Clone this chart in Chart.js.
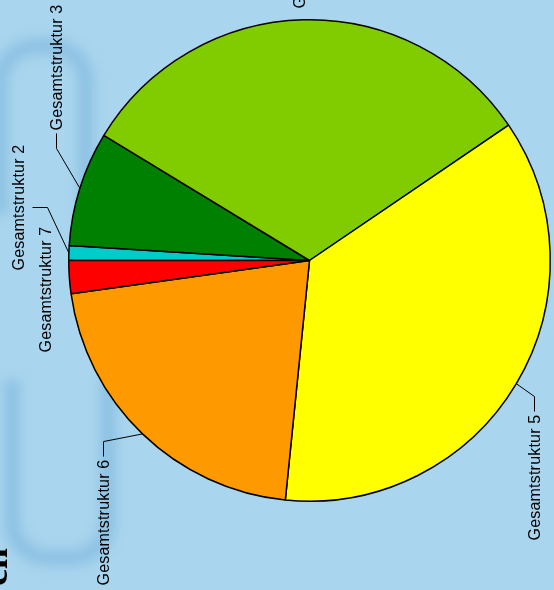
<!DOCTYPE html>
<html lang="de">
<head>
    <meta charset="UTF-8">
    <title>Gesamtstruktur</title>
    <script src="https://cdn.jsdelivr.net/npm/chart.js"></script>
    <style>
        html, body {
            margin: 0;
            padding: 0;
            overflow: hidden;
            background-color: #a9d5ee;
        }
        #wrap {
            position: relative;
            width: 554px;
            height: 590px;
            overflow: hidden;
        }
        /* blasse Schleifen im Hintergrund */
        .loop {
            position: absolute;
            border: 16px solid rgba(110, 170, 215, 0.45);
            filter: blur(6px);
        }
        .loop.top {
            left: -8px; top: 38px; width: 70px; height: 160px;
            border-bottom: none;
            border-radius: 45px 45px 0 0;
        }
        .loop.bottom {
            left: 4px; top: 380px; width: 80px; height: 170px;
            border-top: none;
            border-radius: 0 0 45px 45px;
        }
        canvas {
            position: absolute;
            left: 0;
            top: 0;
        }
    </style>
</head>
<body>
<div id="wrap">
    <div class="loop top"></div>
    <div class="loop bottom"></div>
    <canvas id="pieChart" width="554" height="590"></canvas>
</div>
<script>
    // Daten (Anteile in %)
    const labels = ['Gesamtstruktur 2', 'Gesamtstruktur 3', 'Gesamtstruktur 4', 'Gesamtstruktur 5', 'Gesamtstruktur 6', 'Gesamtstruktur 7'];
    const anteile = [1.0, 7.7, 31.8, 36.1, 21.2, 2.2];
    const farben = ['#00cccc', '#008000', '#80cc00', '#ffff00', '#ff9900', '#ff0000'];

    // Lage der Beschriftungen (Textmitte relativ zur Kreismitte) und Seite der Fuehrungslinie
    const labelLayout = [
        { dx: -291, dy: -53, side: 'right' },
        { dx: -253, dy: -193, side: 'bottom' },
        { dx: -10, dy: -315, side: null },
        { dx: 225, dy: 217, side: 'top' },
        { dx: -206, dy: 262, side: 'top' },
        { dx: -264, dy: 29, side: null }
    ];

    const beschriftung = {
        id: 'beschriftung',
        afterDatasetsDraw(chart) {
            const ctx = chart.ctx;
            const arcs = chart.getDatasetMeta(0).data;
            ctx.save();
            ctx.font = '16px "Liberation Sans", Arial, sans-serif';
            ctx.letterSpacing = '0.2px';
            ctx.fillStyle = '#000';
            ctx.strokeStyle = '#000';
            ctx.lineWidth = 1;
            arcs.forEach((arc, i) => {
                const p = arc.getProps(['x', 'y', 'startAngle', 'endAngle', 'outerRadius'], true);
                const lay = labelLayout[i];
                const cx = p.x + lay.dx;
                const cy = p.y + lay.dy;
                const len = ctx.measureText(labels[i]).width;
                if (lay.side) {
                    const mid = (p.startAngle + p.endAngle) / 2;
                    const ex = p.x + Math.cos(mid) * p.outerRadius;
                    const ey = p.y + Math.sin(mid) * p.outerRadius;
                    let ax, ay, bx, by;
                    if (lay.side === 'top') {
                        ax = cx; ay = cy - len / 2 - 3; bx = ax; by = ay - 15;
                    } else if (lay.side === 'bottom') {
                        ax = cx; ay = cy + len / 2 + 3; bx = ax; by = ay + 15;
                    } else {
                        ax = cx + 14; ay = cy; bx = ax + 15; by = ay;
                    }
                    ctx.beginPath();
                    ctx.moveTo(ex, ey);
                    ctx.lineTo(bx, by);
                    ctx.lineTo(ax, ay);
                    ctx.stroke();
                }
                ctx.save();
                ctx.translate(cx + 5.5, cy);
                ctx.rotate(-Math.PI / 2);
                ctx.textAlign = 'center';
                ctx.textBaseline = 'alphabetic';
                ctx.fillText(labels[i], 0, 0);
                ctx.restore();
            });

            // Rest des Titels links unten
            ctx.font = 'bold 38px "Liberation Serif", "Times New Roman", serif';
            ctx.letterSpacing = '0px';
            ctx.translate(7, 548);
            ctx.rotate(-Math.PI / 2);
            ctx.textAlign = 'right';
            ctx.textBaseline = 'alphabetic';
            ctx.fillText('ch', 0, 0);
            ctx.restore();
        }
    };

    const ctx = document.getElementById('pieChart').getContext('2d');
    new Chart(ctx, {
        type: 'pie',
        data: {
            labels: labels,
            datasets: [{
                data: anteile,
                backgroundColor: farben,
                borderColor: '#000000',
                borderWidth: 1.5
            }]
        },
        options: {
            responsive: false,
            animation: false,
            rotation: -90,
            layout: {
                padding: { left: 68, right: 3, top: 19, bottom: 88 }
            },
            plugins: {
                legend: { display: false },
                tooltip: { enabled: false }
            }
        },
        plugins: [beschriftung]
    });
</script>
</body>
</html>
